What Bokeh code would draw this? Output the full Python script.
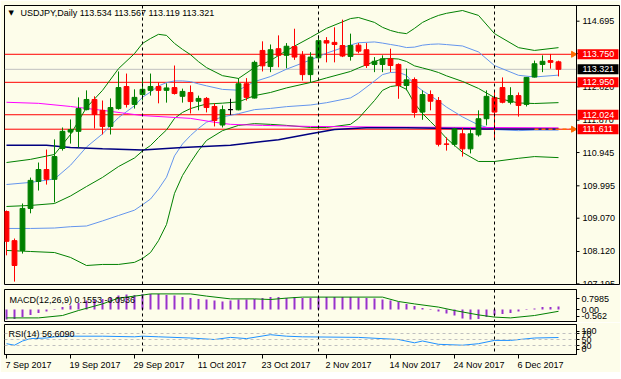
from bokeh.plotting import figure
from bokeh.models import Range1d, FixedTicker, Span, Label, ColumnDataSource
from bokeh.layouts import column
from bokeh.embed import file_html
from bokeh.resources import INLINE
from bokeh.core.properties import value

# ---------------- data ----------------
header_text = "USDJPY,Daily  113.534 113.567 113.119 113.321"
macd_text = "MACD(12,26,9) 0.1553 -0.0936"
rsi_text = "RSI(14) 56.6090"

date_ticks = [0, 8, 16, 24, 32, 40, 48, 56, 64]
date_labels = ["7 Sep 2017", "19 Sep 2017", "29 Sep 2017", "11 Oct 2017", "23 Oct 2017",
               "2 Nov 2017", "14 Nov 2017", "24 Nov 2017", "6 Dec 2017"]
month_starts = [17, 39, 61]

opens = [109.26, 108.43, 108.15, 109.35, 110.12, 110.46, 110.18, 111.06, 111.53, 111.55,
         112.17, 112.46, 112.15, 111.69, 112.20, 112.83, 112.32, 112.60, 112.72, 112.83,
         112.72, 112.80, 112.55, 112.66, 112.41, 112.49, 112.26, 111.73, 112.17, 112.165,
         112.91, 112.50, 113.86, 113.40, 113.91, 113.72, 113.97, 113.72, 113.17, 113.65,
         114.14, 114.09, 114.00, 113.69, 114.01, 113.88, 113.46, 113.46, 113.62, 113.46,
         112.86, 113.03, 112.10, 112.60, 112.43, 111.19, 111.18, 111.48, 111.05, 111.45,
         111.91, 112.51, 112.80, 112.38, 112.57, 112.32, 113.10, 113.46, 113.57, 113.534]
highs = [109.29, 108.49, 109.49, 110.23, 110.66, 111.03, 111.32, 111.66, 111.89, 112.52,
         112.72, 112.55, 112.43, 112.49, 113.26, 113.20, 112.75, 113.09, 113.20, 112.95,
         112.92, 113.43, 112.77, 112.86, 112.57, 112.53, 112.35, 112.29, 112.48, 113.07,
         113.07, 113.57, 114.12, 114.03, 114.29, 114.07, 114.48, 113.84, 113.81, 114.29,
         114.24, 114.52, 114.74, 114.34, 114.07, 114.07, 113.67, 113.72, 113.91, 113.49,
         113.34, 113.09, 112.72, 112.72, 112.53, 111.38, 111.65, 111.65, 111.65, 112.15,
         112.72, 112.72, 113.09, 112.81, 112.66, 113.10, 113.57, 113.72, 113.76, 113.567]
lows = [108.01, 107.26, 108.06, 109.21, 109.86, 110.03, 109.52, 111.00, 111.20, 111.09,
        112.15, 111.63, 111.46, 111.46, 112.17, 112.23, 112.20, 112.43, 112.57, 112.35,
        112.37, 112.60, 112.37, 112.06, 112.15, 112.09, 111.69, 111.66, 112.02, 112.15,
        112.43, 112.49, 113.26, 113.24, 113.38, 113.35, 113.59, 113.00, 112.95, 113.57,
        113.52, 113.52, 113.67, 113.57, 113.78, 113.36, 113.24, 113.24, 113.24, 112.48,
        112.72, 111.94, 111.88, 112.15, 111.12, 111.00, 111.12, 110.83, 110.92, 111.40,
        111.72, 111.32, 112.35, 112.32, 111.97, 112.26, 113.09, 113.24, 113.34, 113.119]
closes = [108.41, 107.72, 109.35, 110.15, 110.46, 110.18, 110.83, 111.55, 111.60, 112.20,
          112.46, 112.03, 111.69, 112.23, 112.80, 112.32, 112.52, 112.75, 112.83, 112.72,
          112.79, 112.63, 112.69, 112.40, 112.49, 112.23, 111.86, 112.17, 112.17, 112.91,
          112.52, 113.52, 113.42, 113.88, 113.72, 113.98, 113.67, 113.17, 113.67, 114.14,
          114.07, 114.03, 113.70, 114.00, 113.84, 113.43, 113.55, 113.62, 113.43, 112.86,
          113.02, 112.09, 112.60, 112.41, 111.18, 111.18, 111.62, 111.05, 111.48, 111.91,
          112.55, 112.10, 112.38, 112.57, 112.29, 113.09, 113.48, 113.55, 113.52, 113.321]

# Bollinger (outer, 2 sigma) read at sampled bars
bb_idx = [0, 3, 6, 8, 10, 12, 14, 16, 17, 18, 19, 20, 21, 22, 23, 24, 25, 27, 29, 31,
          33, 35, 38, 40, 43, 44, 46, 47, 48, 49, 50, 51, 52, 53, 54, 55, 57, 59, 61, 64, 66, 69]
bb_upper = [110.66, 110.75, 110.89, 111.46, 112.23, 112.72, 113.34, 113.77, 114.06, 114.20,
            114.32, 114.29, 114.06, 113.89, 113.74, 113.54, 113.37, 113.14, 113.06, 113.37,
            113.57, 113.86, 114.23, 114.49, 114.77, 114.80, 114.66, 114.52, 114.43, 114.37,
            114.34, 114.49, 114.66, 114.77, 114.86, 114.92, 115.00, 114.86, 114.34, 113.94,
            113.86, 113.94]
bb_lower = [108.15, 108.12, 108.09, 107.95, 107.72, 107.75, 107.75, 107.81, 107.92, 108.09,
            108.43, 108.89, 109.78, 110.29, 110.66, 111.00, 111.29, 111.57, 111.72, 111.77,
            111.75, 111.72, 111.66, 111.66, 111.75, 111.92, 112.43, 112.72, 112.83, 112.86,
            112.75, 112.35, 112.06, 111.83, 111.60, 111.35, 110.95, 110.69, 110.69, 110.78,
            110.83, 110.80]

mag_idx = [0, 4, 8, 12, 15, 17, 23, 26, 28, 32, 38, 50, 60, 69]
mag_ma = [112.38, 112.35, 112.26, 112.15, 112.06, 112.00, 111.92, 111.81, 111.75, 111.72,
          111.69, 111.67, 111.66, 111.65]
navy_idx = [0, 5, 8, 12, 17, 22, 28, 32, 34, 38, 41, 45, 50, 60, 69]
navy_ma = [111.15, 111.15, 111.09, 111.05, 111.02, 111.09, 111.15, 111.26, 111.31, 111.48,
           111.60, 111.65, 111.65, 111.62, 111.62]

red_levels = [113.750, 112.950, 112.024, 111.611]
bid_price = 113.321
arrow_levels = [113.750, 111.611]
price_ticks = [114.695, 113.770, 112.820, 111.870, 110.945, 109.995, 109.070, 108.120, 107.195]

macd_hist = [-0.50, -0.47, -0.38, -0.27, -0.17, -0.10, -0.03, 0.12, 0.20, 0.33,
             0.45, 0.50, 0.53, 0.58, 0.70, 0.75, 0.73, 0.78, 0.78, 0.78,
             0.73, 0.70, 0.62, 0.57, 0.53, 0.50, 0.45, 0.40, 0.45, 0.50,
             0.50, 0.53, 0.58, 0.62, 0.62, 0.57, 0.62, 0.58, 0.57, 0.60,
             0.62, 0.62, 0.62, 0.62, 0.60, 0.58, 0.55, 0.50, 0.45, 0.38,
             0.28, 0.17, 0.08, 0.02, -0.10, -0.20, -0.30, -0.45, -0.50, -0.47,
             -0.38, -0.27, -0.22, -0.17, -0.10, -0.03, 0.05, 0.12, 0.12, 0.155]
sig_idx = [0, 4, 7, 9, 12, 14, 17, 18, 23, 25, 28, 31, 33, 35, 37, 47, 49, 51, 54, 56, 59, 61, 63, 66, 69]
macd_signal = [-0.42, -0.42, -0.30, -0.05, 0.28, 0.57, 0.72, 0.78, 0.78, 0.67, 0.53, 0.53, 0.50,
               0.57, 0.62, 0.62, 0.40, 0.28, 0.12, -0.05, -0.27, -0.38, -0.42, -0.30, -0.09]
macd_tick_pos = [0.55, 0.0, -0.33]
macd_tick_txt = ["0.7985", "0.00", "-0.562"]

rsi_idx = [0, 1, 2, 3, 5, 6, 8, 12, 16, 17, 19, 23, 26, 28, 30, 33, 35, 37, 44, 49, 51, 52,
           54, 57, 59, 61, 63, 66, 69]
rsi_vals = [36, 31, 45, 53, 55, 59, 61, 61, 59, 61, 59, 55, 50, 57, 53, 66, 61, 59, 57, 50, 39,
            45, 34, 31, 36, 47, 47, 55, 56.6]
rsi_levels = [70, 50, 30]
rsi_tick_pos = [77, 70, 50, 30, 18]
rsi_tick_txt = ["100", "70", "50", "30", "0"]

# ---------------- style ----------------
BG = "#fdfdea"
FONT = "Liberation Sans"
FS = "9px"
GREEN = "#008000"
RED = "#ff0000"
PX = 8.0                      # pixels per bar
X0, X1 = -0.25, 71.25         # price area (bars)
X1_MAIN = X1 + 44 / PX        # main frame also covers the price-scale strip

# Liberation Sans advance widths (em) for the date-label glyphs
ADV = {" ": .278, "S": .667, "e": .556, "p": .556, "O": .778, "c": .5, "t": .278,
       "N": .722, "o": .556, "v": .5, "D": .722}


def text_px(s, size=9.0):
    return sum(ADV.get(ch, .556) for ch in s) * size


def style_fig(p):
    p.grid.visible = False
    p.frame_align = False
    for m in month_starts:
        p.add_layout(Span(location=m, dimension="height", line_color="black",
                          line_width=1, line_dash="3 3"))


def right_axis(p):
    ax = p.yaxis[0]
    ax.axis_line_color = "black"
    ax.major_tick_out = 3
    ax.major_tick_in = 0
    ax.minor_tick_line_color = None
    ax.major_label_text_font = FONT
    ax.major_label_text_font_size = FS
    ax.major_label_text_color = "black"
    ax.major_label_standoff = 2


# ---------------- main price panel ----------------
p1 = figure(width=620, height=285, x_range=Range1d(X0, X1_MAIN),
            y_range=Range1d(107.149, 115.143), title=None,
            output_backend="svg", toolbar_location=None,
            x_axis_location=None, y_axis_location=None,
            min_border_left=4, min_border_right=0, min_border_top=5, min_border_bottom=0,
            background_fill_color=BG, border_fill_color=BG, outline_line_color="black")
style_fig(p1)

n_lv = len(red_levels)
p1.segment(x0=[X0] * n_lv, y0=red_levels, x1=[X1] * n_lv, y1=red_levels,
           line_color=RED, line_width=1)
p1.segment(x0=[X0], y0=[bid_price], x1=[X1], y1=[bid_price], line_color="#c0c0c0", line_width=1)

bb_mid = [(u + l) / 2 for u, l in zip(bb_upper, bb_lower)]
bb_up1 = [(u + m) / 2 for u, m in zip(bb_upper, bb_mid)]
bb_lo1 = [(l + m) / 2 for l, m in zip(bb_lower, bb_mid)]
p1.line(bb_idx, bb_up1, line_color="#6495ed", line_width=1)
p1.line(bb_idx, bb_lo1, line_color="#6495ed", line_width=1)
p1.line(bb_idx, bb_upper, line_color=GREEN, line_width=1)
p1.line(bb_idx, bb_mid, line_color=GREEN, line_width=1)
p1.line(bb_idx, bb_lower, line_color=GREEN, line_width=1)
p1.line(mag_idx, mag_ma, line_color="#ff00ff", line_width=1)
p1.line(navy_idx, navy_ma, line_color="#000080", line_width=1.5)

idx = list(range(len(opens)))
cols = [GREEN if c > o else (RED if c < o else "black") for o, c in zip(opens, closes)]
src = ColumnDataSource(dict(x=idx, h=highs, l=lows,
                            top=[max(o, c) for o, c in zip(opens, closes)],
                            bot=[min(o, c) for o, c in zip(opens, closes)],
                            col=cols))
p1.segment(x0="x", y0="l", x1="x", y1="h", line_color="col", line_width=1, source=src)
p1.vbar(x="x", width=0.6, top="top", bottom="bot", fill_color="col", line_color="col",
        line_width=1, source=src)

p1.segment(x0=[66], y0=[arrow_levels[1]], x1=[X1], y1=[arrow_levels[1]],
           line_color="#ff6a00", line_width=1.5, line_dash="4 3")
p1.scatter(x=[X1 - 0.4] * len(arrow_levels), y=arrow_levels, marker="triangle", size=6,
           angle=-1.5708, fill_color="#ff6a00", line_color="#ff6a00")

# price scale: line, ticks, labels (placed by the y scale)
p1.add_layout(Span(location=X1, dimension="height", line_color="black", line_width=1))
n_t = len(price_ticks)
p1.segment(x0=[X1] * n_t, y0=price_ticks, x1=[X1 + 3 / PX] * n_t, y1=price_ticks,
           line_color="black", line_width=1)
p1.text(x=[X1] * n_t, y=price_ticks, text=[f"{v:.3f}" for v in price_ticks], x_offset=6,
        text_baseline="middle", text_font=value(FONT), text_font_size=FS, text_color="black")

tag_prices = red_levels + [bid_price]
tag_colors = [RED] * n_lv + ["black"]
p1.rect(x=[X1 + 21.5 / PX] * len(tag_prices), y=tag_prices, width=41, height=10,
        width_units="screen", height_units="screen", fill_color=tag_colors, line_color=None)
p1.text(x=[X1] * len(tag_prices), y=tag_prices, text=[f"{v:.3f}" for v in tag_prices],
        x_offset=6, text_baseline="middle", text_font=value(FONT), text_font_size=FS,
        text_color="white")

p1.add_layout(Label(x=X0, y=114.915, x_offset=4, text="\u25BC", text_font="DejaVu Sans",
                    text_font_size="7px", text_baseline="middle", text_color="black"))
p1.add_layout(Label(x=X0, y=114.915, x_offset=16, text=header_text, text_font=FONT,
                    text_font_size=FS, text_baseline="middle", text_color="black"))

# ---------------- MACD panel ----------------
XR = Range1d(X0, X1)
p2 = figure(width=620, height=37, x_range=XR, y_range=Range1d(-0.65, 1.0), title=None,
            output_backend="svg", toolbar_location=None,
            x_axis_location=None, y_axis_location="right",
            min_border_left=4, min_border_right=44, min_border_top=4, min_border_bottom=0,
            background_fill_color=BG, border_fill_color=BG, outline_line_color="black")
style_fig(p2)
right_axis(p2)
p2.yaxis[0].ticker = FixedTicker(ticks=macd_tick_pos)
p2.yaxis[0].major_label_overrides = {k: t for k, t in zip(macd_tick_pos, macd_tick_txt)}
p2.segment(x0=idx, y0=[0] * len(idx), x1=idx, y1=macd_hist, line_color="#9932cc", line_width=2)
p2.line(sig_idx, macd_signal, line_color=GREEN, line_width=1)
p2.add_layout(Label(x=X0, y=0.5, x_offset=5, text=macd_text, text_font=FONT,
                    text_font_size=FS, text_baseline="middle", text_color="black"))

# ---------------- RSI panel ----------------
p3 = figure(width=620, height=50, x_range=XR, y_range=Range1d(0, 100), title=None,
            output_backend="svg", toolbar_location=None,
            x_axis_location="below", y_axis_location="right",
            min_border_left=4, min_border_right=44, min_border_top=2, min_border_bottom=16,
            background_fill_color=BG, border_fill_color=BG, outline_line_color="black")
style_fig(p3)
right_axis(p3)
p3.yaxis[0].ticker = FixedTicker(ticks=rsi_tick_pos)
p3.yaxis[0].major_label_overrides = {k: t for k, t in zip(rsi_tick_pos, rsi_tick_txt)}
for lv in rsi_levels:
    p3.add_layout(Span(location=lv, dimension="width", line_color="#c0c0c0",
                       line_width=1, line_dash="3 3"))
p3.line(rsi_idx, rsi_vals, line_color="#1e90ff", line_width=1)
p3.add_layout(Label(x=X0, y=70, x_offset=4, text=rsi_text, text_font=FONT,
                    text_font_size=FS, text_baseline="middle", text_color="black"))

label_centres = [t + (text_px(s) / 2 - 1) / PX for t, s in zip(date_ticks, date_labels)]
xa = p3.xaxis[0]
xa.ticker = FixedTicker(ticks=label_centres, minor_ticks=date_ticks)
xa.major_label_overrides = {c: s for c, s in zip(label_centres, date_labels)}
xa.major_label_text_font = FONT
xa.major_label_text_font_size = FS
xa.major_label_text_color = "black"
xa.major_label_standoff = 1
xa.major_tick_out = 0
xa.major_tick_in = 0
xa.major_tick_line_color = None
xa.minor_tick_out = 4
xa.minor_tick_in = 0
xa.minor_tick_line_color = "black"
xa.axis_line_color = "black"

layout = column(p1, p2, p3, spacing=0)
open("out.html", "w").write(file_html(layout, INLINE))
